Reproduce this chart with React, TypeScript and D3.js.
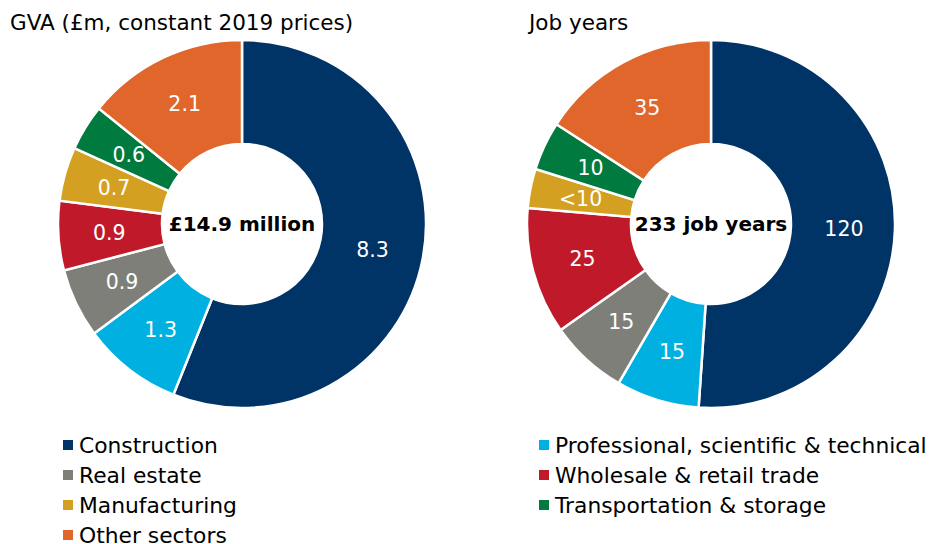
import React from "react";
import * as d3 from "d3";

const sectors = [
  "Construction",
  "Professional, scientific & technical",
  "Real estate",
  "Wholesale & retail trade",
  "Manufacturing",
  "Transportation & storage",
  "Other sectors",
];
const sectorColors = ["#003366", "#00B0E0", "#7F7F7A", "#C01A2A", "#D4A021", "#007A3E", "#E0662C"];

const gvaValues = [8.3, 1.3, 0.9, 0.9, 0.7, 0.6, 2.1];
const gvaLabels = ["8.3", "1.3", "0.9", "0.9", "0.7", "0.6", "2.1"];
const jobValues = [119, 17, 16, 26, 8, 10, 37];
const jobLabels = ["120", "15", "15", "25", "<10", "10", "35"];

const gvaTitle = "GVA (£m, constant 2019 prices)";
const jobTitle = "Job years";
const gvaCenter = "£14.9 million";
const jobCenter = "233 job years";

const legendLeft = [0, 2, 4, 6];
const legendRight = [1, 3, 5];

const FONT = "'DejaVu Sans', sans-serif";

function Donut({ cx, cy, values, labels, center }: { cx: number; cy: number; values: number[]; labels: string[]; center: string }) {
  const outer = 184;
  const inner = 80;
  const pie = d3.pie<number>().sort(null).value((d) => d)(values);
  const arc = d3.arc<d3.PieArcDatum<number>>().innerRadius(inner).outerRadius(outer);
  const labelArc = d3.arc<d3.PieArcDatum<number>>().innerRadius(133).outerRadius(133);
  return (
    <g transform={`translate(${cx},${cy})`}>
      {pie.map((p, i) => (
        <path key={i} d={arc(p) || ""} fill={sectorColors[i]} stroke="#ffffff" strokeWidth={2.5} />
      ))}
      {pie.map((p, i) => {
        const [x, y] = labelArc.centroid(p);
        return (
          <text key={"l" + i} x={x} y={y} dy="0.36em" textAnchor="middle" fill="#ffffff" fontSize={20.5} fontFamily={FONT}>
            {labels[i]}
          </text>
        );
      })}
      <text x={0} y={0} dy="0.36em" textAnchor="middle" fill="#000" fontSize={20} fontWeight="bold" fontFamily={FONT}>
        {center}
      </text>
    </g>
  );
}

export default function App() {
  return (
    <svg width={930} height={544} style={{ position: "absolute", left: 0, top: 0, background: "#fff" }}>
      <text x={10} y={30} fontSize={21.5} fontFamily={FONT} fill="#000">{gvaTitle}</text>
      <text x={529} y={30} fontSize={21.5} fontFamily={FONT} fill="#000">{jobTitle}</text>
      <Donut cx={242} cy={224} values={gvaValues} labels={gvaLabels} center={gvaCenter} />
      <Donut cx={711} cy={224} values={jobValues} labels={jobLabels} center={jobCenter} />
      {legendLeft.map((k, i) => (
        <g key={"ll" + k} transform={`translate(63,${445 + i * 30})`}>
          <rect x={0} y={-5} width={10} height={10} fill={sectorColors[k]} />
          <text x={16} y={0} dy="0.36em" fontSize={21.8} fontFamily={FONT} fill="#000">{sectors[k]}</text>
        </g>
      ))}
      {legendRight.map((k, i) => (
        <g key={"lr" + k} transform={`translate(539,${445 + i * 30})`}>
          <rect x={0} y={-5} width={10} height={10} fill={sectorColors[k]} />
          <text x={16} y={0} dy="0.36em" fontSize={21.8} fontFamily={FONT} fill="#000">{sectors[k]}</text>
        </g>
      ))}
    </svg>
  );
}
